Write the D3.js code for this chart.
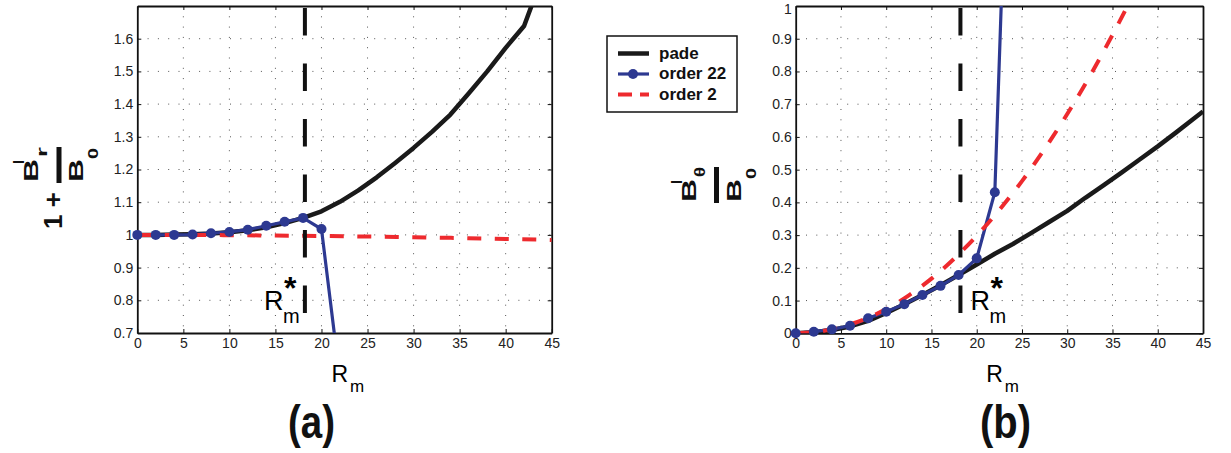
<!DOCTYPE html>
<html>
<head>
<meta charset="utf-8">
<script src="https://cdn.jsdelivr.net/npm/d3@7"></script>
<style>
  body { margin: 0; background: #fff; }
  svg { display: block; }
  text { font-family: "Liberation Sans", Arial, sans-serif; }
</style>
</head>
<body>
<div id="wrapper"></div>
<script>
// ---------- DATA ----------
const xTickValues = [0, 5, 10, 15, 20, 25, 30, 35, 40, 45];
const yTicksA = [0.7, 0.8, 0.9, 1, 1.1, 1.2, 1.3, 1.4, 1.5, 1.6];
const yTicksB = [0, 0.1, 0.2, 0.3, 0.4, 0.5, 0.6, 0.7, 0.8, 0.9, 1];
const rStar = 18.2;
const seriesNames = ["pade", "order 22", "order 2"];

// panel (a): 1 + B_r / B_0
const padeA_x = [0, 2, 4, 6, 8, 10, 12, 14, 16, 18, 20, 22, 24, 26, 28, 30, 32, 34, 36, 38, 40, 42, 43];
const padeA_y = [1.0, 1.0, 1.001, 1.002, 1.004, 1.008, 1.014, 1.023, 1.036, 1.052, 1.072, 1.101, 1.136, 1.176, 1.22, 1.266, 1.315, 1.368, 1.433, 1.5, 1.572, 1.639, 1.715];
const order22A_x = [0, 2, 4, 6, 8, 10, 12, 14, 16, 18, 20, 22];
const order22A_y = [1.0, 1.0, 1.0, 1.001, 1.005, 1.009, 1.016, 1.028, 1.04, 1.052, 1.018, 0.56];
const order2A_x = [0, 5, 10, 15, 20, 25, 30, 35, 40, 45];
const order2A_y = [1.0, 0.9998, 0.9992, 0.998, 0.9968, 0.995, 0.993, 0.9905, 0.9877, 0.9845];

// panel (b): B_theta / B_0
const padeB_x = [0, 2, 4, 6, 8, 10, 12, 14, 16, 18, 20, 22, 24, 26, 28, 30, 32, 34, 36, 38, 40, 42, 44, 45];
const padeB_y = [0, 0.003, 0.01, 0.021, 0.038, 0.062, 0.089, 0.117, 0.147, 0.178, 0.21, 0.243, 0.273, 0.306, 0.34, 0.374, 0.414, 0.452, 0.491, 0.531, 0.571, 0.613, 0.656, 0.678];
const order22B_x = [0, 2, 4, 6, 8, 10, 12, 14, 16, 18, 20, 22, 24];
const order22B_y = [0, 0.005, 0.012, 0.023, 0.046, 0.066, 0.089, 0.117, 0.145, 0.178, 0.229, 0.431, 2.05];
const order2B_x = [0, 2.5, 5, 7.5, 10, 12.5, 15, 17.5, 20, 22.5, 25, 27.5, 30, 32.5, 35, 37.5, 40];
const order2B_y = [0, 0.005, 0.019, 0.042, 0.074, 0.116, 0.167, 0.228, 0.298, 0.377, 0.465, 0.563, 0.67, 0.786, 0.912, 1.046, 1.19];

const zip = (xs, ys) => xs.map((x, i) => ({ x, y: ys[i] }));

// ---------- STYLE ----------
const colors = { pade: "#1a1a1a", o22: "#2d3991", o2: "#ee2a2e" };

const svg = d3.select("#wrapper")
  .append("svg")
  .attr("width", 1231)
  .attr("height", 453);

// ---------- PANEL ----------
function drawPanel(p) {
  const w = p.right - p.left;
  const h = p.bottom - p.top;
  const g = svg.append("g").attr("transform", `translate(${p.left},${p.top})`);

  const xScale = d3.scaleLinear().domain([0, 45]).range([0, w]);
  const yScale = d3.scaleLinear().domain(p.yDomain).range([h, 0]);

  g.append("clipPath").attr("id", p.id + "-clip")
    .append("rect").attr("width", w).attr("height", h);

  // dotted grid
  const grid = g.append("g")
    .attr("stroke", "#555")
    .attr("stroke-width", 1)
    .attr("stroke-dasharray", "1,9.3");
  grid.selectAll(".gx").data(xTickValues.slice(1, -1)).join("line")
    .attr("x1", d => xScale(d)).attr("x2", d => xScale(d))
    .attr("y1", 0).attr("y2", h);
  grid.selectAll(".gy").data(p.yTicks.filter(d => d > p.yDomain[0] && d < p.yDomain[1])).join("line")
    .attr("y1", d => yScale(d)).attr("y2", d => yScale(d))
    .attr("x1", 0).attr("x2", w);

  // axes, ticks pointing inside
  const fmt = d3.format("~g");
  const xAxis = g.append("g").attr("transform", `translate(0,${h})`)
    .call(d3.axisBottom(xScale).tickValues(xTickValues).tickFormat(fmt).tickSize(-4).tickSizeOuter(0).tickPadding(5));
  const xTop = g.append("g")
    .call(d3.axisTop(xScale).tickValues(xTickValues).tickFormat("").tickSize(-4).tickSizeOuter(0));
  const yAxis = g.append("g")
    .call(d3.axisLeft(yScale).tickValues(p.yTicks).tickFormat(fmt).tickSize(-4).tickSizeOuter(0).tickPadding(4));
  const yRight = g.append("g").attr("transform", `translate(${w},0)`)
    .call(d3.axisRight(yScale).tickValues(p.yTicks).tickFormat("").tickSize(-4).tickSizeOuter(0));

  [xAxis, xTop, yAxis, yRight].forEach(a => {
    a.select(".domain").attr("stroke", "#111").attr("stroke-width", 1.8);
    a.selectAll(".tick line").attr("stroke", "#111").attr("stroke-width", 1);
    a.selectAll("text").attr("font-size", 14).attr("fill", "#222")
      .attr("font-family", "Liberation Sans, Arial, sans-serif");
  });
  // top label sits a little lower so it is not cut at the edge
  yAxis.selectAll(".tick text").filter(d => d === p.yDomain[1]).attr("dy", "0.5em");

  const lineGen = d3.line().x(d => xScale(d.x)).y(d => yScale(d.y));
  const smoothGen = d3.line().x(d => xScale(d.x)).y(d => yScale(d.y)).curve(d3.curveMonotoneX);
  const plot = g.append("g").attr("clip-path", `url(#${p.id}-clip)`);

  // pade
  plot.append("path")
    .attr("d", lineGen(p.pade))
    .attr("fill", "none").attr("stroke", colors.pade).attr("stroke-width", 4.5)
    .attr("stroke-linejoin", "round");

  // order 22 with markers
  plot.append("path")
    .attr("d", lineGen(p.o22))
    .attr("fill", "none").attr("stroke", colors.o22).attr("stroke-width", 3.2);
  g.append("g").selectAll("circle")
    .data(p.o22.filter(d => d.y >= p.yDomain[0] && d.y <= p.yDomain[1]))
    .join("circle")
    .attr("cx", d => xScale(d.x)).attr("cy", d => yScale(d.y))
    .attr("r", 5).attr("fill", colors.o22);

  // order 2 dashed
  plot.append("path")
    .attr("d", smoothGen(p.o2))
    .attr("fill", "none").attr("stroke", colors.o2).attr("stroke-width", 4)
    .attr("stroke-dasharray", "14,13.5");

  // critical Rm
  g.append("line")
    .attr("x1", xScale(rStar)).attr("x2", xScale(rStar))
    .attr("y1", 0).attr("y2", h)
    .attr("stroke", "#111").attr("stroke-width", 4)
    .attr("stroke-dasharray", "27.5,28").attr("stroke-dashoffset", -2);

  // R*_m label
  const sx = p.left + xScale(rStar);
  const lab = svg.append("g");
  lab.append("text").attr("x", sx + p.starDx).attr("y", 310).attr("font-size", 27).text("R");
  lab.append("text").attr("x", sx + p.starDx + 20).attr("y", 299).attr("font-size", 32).attr("font-weight", "bold").text("*");
  lab.append("text").attr("x", sx + p.starDx + 19).attr("y", 323).attr("font-size", 20).text("m");

  // x label R_m
  const cx = p.left + w / 2;
  svg.append("text").attr("x", cx - 13).attr("y", 382).attr("font-size", 23).text("R");
  svg.append("text").attr("x", cx + 5.5).attr("y", 392).attr("font-size", 17).text("m");

  // panel letter
  svg.append("text")
    .attr("x", p.letterX).attr("y", 438)
    .attr("font-family", "Roboto, sans-serif").attr("font-weight", "bold")
    .attr("font-size", 47)
    .attr("textLength", p.letterW).attr("lengthAdjust", "spacingAndGlyphs")
    .attr("fill", "#111")
    .text(p.letter);
}

drawPanel({
  id: "a", left: 137.3, right: 551.7, top: 6, bottom: 333,
  yDomain: [0.7, 1.7], yTicks: yTicksA,
  pade: zip(padeA_x, padeA_y), o22: zip(order22A_x, order22A_y), o2: zip(order2A_x, order2A_y),
  starDx: -41, letter: "(a)", letterX: 288, letterW: 47
});

drawPanel({
  id: "b", left: 795.7, right: 1203, top: 6, bottom: 333.3,
  yDomain: [0, 1], yTicks: yTicksB,
  pade: zip(padeB_x, padeB_y), o22: zip(order22B_x, order22B_y), o2: zip(order2B_x, order2B_y),
  starDx: 10, letter: "(b)", letterX: 980, letterW: 51
});

// ---------- Y LABELS (rotated fractions) ----------
function fracLabel(x, y, sub, withOne) {
  const g = svg.append("g")
    .attr("transform", `translate(${x},${y}) rotate(-90)`)
    .attr("font-weight", "bold").attr("fill", "#111");
  g.append("rect").attr("x", 0).attr("y", -2.5).attr("width", 36).attr("height", 5).attr("fill", "#111");
  // numerator
  g.append("text").attr("x", 1).attr("y", -21).attr("font-size", 20)
    .attr("textLength", 23).attr("lengthAdjust", "spacingAndGlyphs").text("B");
  g.append("text").attr("x", 19).attr("y", -35).attr("font-size", 14).text("l");
  g.append("text").attr("x", 26).attr("y", -12).attr("font-size", 15)
    .attr("textLength", 10).attr("lengthAdjust", "spacingAndGlyphs").text(sub);
  // denominator
  g.append("text").attr("x", 1).attr("y", 24).attr("font-size", 20)
    .attr("textLength", 23).attr("lengthAdjust", "spacingAndGlyphs").text("B");
  g.append("text").attr("x", 24).attr("y", 39).attr("font-size", 15)
    .attr("textLength", 11).attr("lengthAdjust", "spacingAndGlyphs").text("0");
  if (withOne) {
    g.append("text").attr("x", -46).attr("y", 3).attr("font-size", 26).text("1 +");
  }
}
fracLabel(59, 183, "r", true);
fracLabel(716.5, 203, "\u03b8", false);

// ---------- LEGEND ----------
const legend = svg.append("g");
legend.append("rect")
  .attr("x", 607).attr("y", 36).attr("width", 130).attr("height", 76)
  .attr("fill", "#fff").attr("stroke", "#111").attr("stroke-width", 1.5);

const legendY = [53.5, 74, 94.5];
legend.append("line").attr("x1", 618).attr("x2", 649).attr("y1", legendY[0]).attr("y2", legendY[0])
  .attr("stroke", colors.pade).attr("stroke-width", 4.5);
legend.append("line").attr("x1", 618).attr("x2", 649).attr("y1", legendY[1]).attr("y2", legendY[1])
  .attr("stroke", colors.o22).attr("stroke-width", 3.2);
legend.append("circle").attr("cx", 633).attr("cy", legendY[1]).attr("r", 5).attr("fill", colors.o22);
legend.append("line").attr("x1", 618).attr("x2", 649).attr("y1", legendY[2]).attr("y2", legendY[2])
  .attr("stroke", colors.o2).attr("stroke-width", 4)
  .attr("stroke-dasharray", "18,8").attr("stroke-dashoffset", -22);

legend.selectAll(".lt").data(seriesNames).join("text")
  .attr("x", 659).attr("y", (d, i) => legendY[i] + 5)
  .attr("font-size", 17).attr("font-weight", "bold").attr("fill", "#111")
  .text(d => d);
</script>
</body>
</html>
